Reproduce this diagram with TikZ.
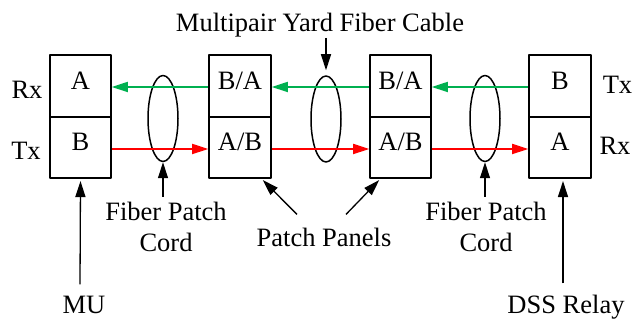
\documentclass[tikz,border=0pt]{standalone}
\usepackage{fontspec}
\setmainfont{Liberation Serif}
\usetikzlibrary{arrows.meta,shapes.geometric,calc}
\definecolor{rxgreen}{RGB}{0,176,80}
\begin{document}
\begin{tikzpicture}[x=1pt,y=-1pt,line join=round,
		font=\fontsize{26.5}{31}\selectfont,
		>={Triangle[length=16pt,width=10pt]},
		cell/.style={draw,line width=1.6pt,minimum width=61pt,minimum height=61.5pt,inner sep=0pt,text height=0.66em,text depth=0pt},
		cord/.style={draw,ellipse,line width=1.5pt,minimum width=30pt,minimum height=86pt,inner sep=0pt},
		lbl/.style={anchor=base,inner sep=0pt,align=center},
		pointer/.style={->,line width=1.3pt},
		fiber/.style={->,line width=1.8pt}]
	\useasboundingbox (0,0) rectangle (633,320);
	% MU, patch panels, DSS relay
	\node[cell] (muA) at (80.5,86) {A};
	\node[cell] (muB) at (80.5,147.5) {B};
	\node[cell,minimum width=62pt] (pp1a) at (240,86) {B/A};
	\node[cell,minimum width=62pt] (pp1b) at (240,147.5) {A/B};
	\node[cell] (pp2a) at (400.5,86) {B/A};
	\node[cell] (pp2b) at (400.5,147.5) {A/B};
	\node[cell,minimum width=62pt] (dssB) at (560,86) {B};
	\node[cell,minimum width=62pt] (dssA) at (560,147.5) {A};
	\node[lbl] (rxL) at (27,99) {Rx};
	\node[lbl] (txL) at (26,160) {Tx};
	\node[lbl] (txR) at (617.5,94) {Tx};
	\node[lbl] (rxR) at (615,155) {Rx};
	% fibers
	\node[cord] (cord1) at (163,118.5) {};
	\node[cord] (cable) at (326,119) {};
	\node[cord] (cord2) at (485,118.5) {};
	\draw[fiber,rxgreen] ([yshift=-1pt]pp1a.west) -- ([yshift=-1pt]muA.east);
	\draw[fiber,rxgreen] ([yshift=-1pt]pp2a.west) -- ([yshift=-1pt]pp1a.east);
	\draw[fiber,rxgreen] ([yshift=-1pt]dssB.west) -- ([yshift=-1pt]pp2a.east);
	\draw[fiber,red] ([yshift=-1.5pt]muB.east) -- ([yshift=-1.5pt]pp1b.west);
	\draw[fiber,red] ([yshift=-1.5pt]pp1b.east) -- ([yshift=-1.5pt]pp2b.west);
	\draw[fiber,red] ([yshift=-1.5pt]pp2b.east) -- ([yshift=-1.5pt]dssA.west);
	% callouts
	\node[lbl] (yard) at (320,32) {Multipair Yard Fiber Cable};
	\draw[pointer,shorten >=5pt] (cable.north |- yard.south) -- (cable.north);
	\node[lbl,anchor=north] (fpc1) at (166,201.5) {Fiber Patch\\Cord};
	\node[lbl,anchor=north] (fpc2) at (486,201.5) {Fiber Patch\\Cord};
	\draw[pointer,shorten <=4.5pt] (cord1.south |- fpc1.north) -- (cord1.south);
	\draw[pointer,shorten <=4.5pt] (cord2.south |- fpc2.north) -- (cord2.south);
	\node[lbl] (panels) at (324,247) {Patch Panels};
	\draw[pointer] ($(panels.north)+(-27,-14)$) -- ($(pp1b.south east)+(-9,1)$);
	\draw[pointer] ($(panels.north)+(22,-14)$) -- ($(pp2b.south west)+(10,1)$);
	\node[lbl] (mu) at (84,314) {MU};
	\node[lbl] (dss) at (566,314) {DSS Relay};
	\draw[pointer] ($(mu.north)+(-4,-12)$) -- ($(muB.south)+(0,2)$);
	\draw[pointer] ($(dss.north)+(-3,-12)$) -- ($(dssA.south)+(3,2)$);
\end{tikzpicture}
\end{document}
